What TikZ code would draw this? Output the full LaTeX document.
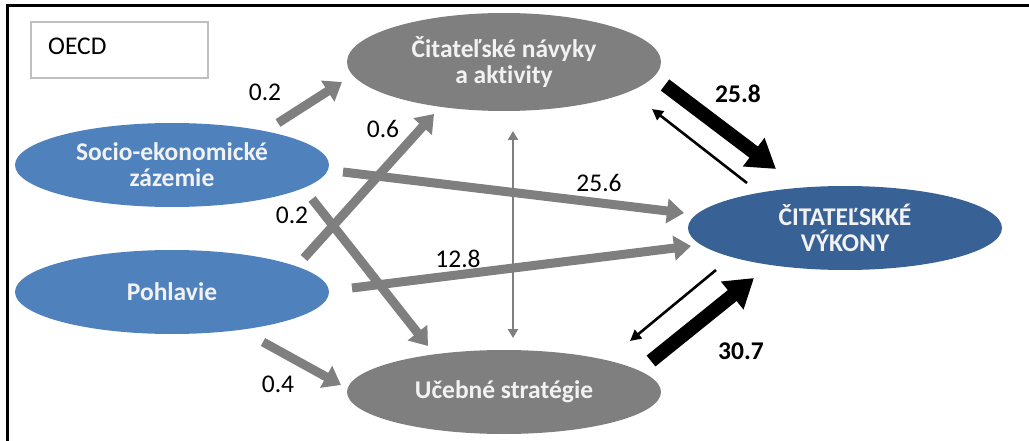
\documentclass[tikz,border=0pt]{standalone}
\usepackage{fontspec}
\setmainfont{Carlito}[Ligatures={NoCommon}]
\usetikzlibrary{arrows.meta,shapes.geometric}

\definecolor{sourceblue}{HTML}{4F81BD}
\definecolor{targetblue}{HTML}{386195}
\definecolor{midgray}{HTML}{7F7F7F}
\definecolor{boxgray}{HTML}{BFBFBF}
\definecolor{labeltext}{HTML}{F2F2F2}

\tikzset{
  factor/.style={ellipse, minimum width=314pt, minimum height=84pt, inner sep=0pt,
    text=labeltext, font=\fontsize{25.5}{26}\selectfont\bfseries, align=center},
  srcfactor/.style={factor, fill=sourceblue},
  midfactor/.style={factor, fill=midgray},
  outfactor/.style={factor, fill=targetblue},
  grayflow/.style={draw=midgray, line width=9pt,
    -{Triangle[width=24pt,length=17pt]}},
  bigflow/.style={draw=black, line width=14pt,
    -{Triangle[width=34pt,length=28pt]}},
  backflow/.style={draw=black, line width=2.6pt,
    -{Triangle[width=11pt,length=11pt]}},
  linkflow/.style={draw=midgray, line width=2.4pt,
    {Triangle[width=10pt,length=9pt]}-{Triangle[width=10pt,length=9pt]}},
  coef/.style={font=\fontsize{25.5}{26}\selectfont, text=black, inner sep=0pt},
  bigcoef/.style={coef, font=\fontsize{25.5}{26}\selectfont\bfseries}
}

\begin{document}
\begin{tikzpicture}[x=1pt, y=-1pt]
  \useasboundingbox (0,0) rectangle (1029,441);

  % outer frame: top and left edges only
  \draw[line width=3pt, line cap=rect] (7,441) -- (7,6) -- (1029,6);

  % legend box
  \node[draw=boxgray, line width=1.5pt, minimum width=177pt, minimum height=56pt,
        inner sep=0pt] (legend) at (119.5,50) {};
  \node[font=\fontsize{25.5}{26}\selectfont, anchor=west, inner sep=0pt]
        (legendtext) at (48,46) {OECD};

  % factors
  \node[srcfactor] (ses) at (172,165) {Socio-ekonomické\\zázemie};
  \node[srcfactor] (gender) at (172,292) {Pohlavie};
  \node[midfactor, minimum height=98pt] (habits) at (504,62) {Čitateľské návyky\\a aktivity};
  \node[midfactor] (strategies) at (504,392) {Učebné stratégie};
  \node[outfactor] (reading) at (845,228) {ČITATEĽSKKÉ\\VÝKONY};

  % arrow end points
  \coordinate (sesA) at (278,123);   \coordinate (habA) at (342,82);
  \coordinate (genA) at (304,258);   \coordinate (habB) at (434,114);
  \coordinate (sesB) at (312,199);   \coordinate (strA) at (428,346);
  \coordinate (genB) at (263,342);   \coordinate (strB) at (341,385);
  \coordinate (sesC) at (343,172);   \coordinate (redA) at (684,213);
  \coordinate (genC) at (352,288);   \coordinate (redB) at (691,246);
  \coordinate (habC) at (513,131);   \coordinate (strC) at (513,338);
  \coordinate (habD) at (665,85);    \coordinate (redC) at (776,169);
  \coordinate (redD) at (747,183);   \coordinate (habE) at (652,109);
  \coordinate (strD) at (651,361);   \coordinate (redE) at (754,278);
  \coordinate (redF) at (716,270);   \coordinate (strE) at (630,341);

  % gray paths
  \draw[grayflow] (sesC) -- (redA);
  \draw[grayflow] (genC) -- (redB);
  \draw[grayflow] (sesA) -- (habA);
  \draw[grayflow] (genA) -- (habB);
  \draw[grayflow] (sesB) -- (strA);
  \draw[grayflow] (genB) -- (strB);
  \draw[linkflow] (habC) -- (strC);

  % paths to reading performance
  \draw[bigflow] (habD) -- (redC);
  \draw[backflow] (redD) -- (habE);
  \draw[bigflow] (strD) -- (redE);
  \draw[backflow] (redF) -- (strE);

  % coefficients
  \node[coef] (c1) at (265,92) {0.2};
  \node[coef] (c2) at (383,129) {0.6};
  \node[coef] (c3) at (292,215) {0.2};
  \node[coef] (c4) at (599,183) {25.6};
  \node[coef] (c5) at (458,259) {12.8};
  \node[coef] (c6) at (278,384) {0.4};
  \node[bigcoef] (c7) at (738,94) {25.8};
  \node[bigcoef] (c8) at (741,351) {30.7};
\end{tikzpicture}
\end{document}
